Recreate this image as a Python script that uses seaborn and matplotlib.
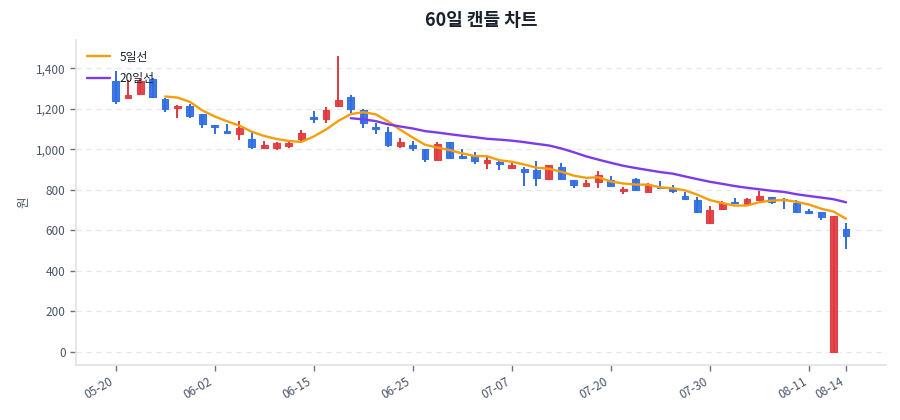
import numpy as np
import pandas as pd
import matplotlib
matplotlib.use("Agg")
import matplotlib.pyplot as plt
import seaborn as sns

# daily candles (open, high, low, close)
opens = [1337, 1255, 1272, 1345, 1250, 1202, 1215, 1172, 1120, 1088,
         1075, 1048, 1004, 1005, 1017, 1050, 1157, 1150, 1212, 1258,
         1195, 1110, 1085, 1017, 1022, 1002, 948, 1035, 965, 965,
         934, 938, 908, 900, 895, 851, 913, 847, 819, 836,
         847, 792, 854, 790, 815, 810, 768, 748, 634, 703,
         740, 728, 750, 764, 755, 736, 694, 690, 0, 606]
highs = [1385, 1340, 1345, 1350, 1252, 1218, 1222, 1175, 1120, 1123,
         1138, 1085, 1040, 1035, 1035, 1095, 1190, 1210, 1462, 1268,
         1198, 1128, 1112, 1057, 1040, 1003, 1035, 1038, 1003, 985,
         963, 940, 933, 914, 942, 924, 933, 848, 850, 892,
         870, 815, 858, 832, 843, 821, 788, 765, 718, 744,
         760, 757, 793, 766, 757, 749, 706, 692, 668, 637]
lows = [1225, 1250, 1270, 1255, 1185, 1152, 1152, 1105, 1075, 1078,
        1045, 1000, 1002, 995, 1004, 1040, 1128, 1128, 1210, 1180,
        1103, 1074, 1013, 1008, 990, 938, 946, 956, 952, 925,
        900, 897, 900, 818, 820, 849, 852, 807, 818, 810,
        817, 780, 795, 788, 806, 785, 750, 683, 633, 702,
        730, 726, 748, 727, 703, 688, 681, 650, 0, 505]
closes = [1240, 1270, 1335, 1258, 1200, 1212, 1165, 1125, 1108, 1080,
          1105, 1013, 1022, 1032, 1032, 1080, 1148, 1195, 1245, 1198,
          1128, 1098, 1020, 1035, 1007, 950, 1028, 958, 955, 940,
          947, 928, 920, 888, 860, 921, 855, 824, 834, 872,
          818, 805, 798, 830, 808, 795, 752, 690, 698, 735,
          732, 754, 771, 740, 747, 690, 686, 667, 668, 572]

tick_labels = ["05-20", "06-02", "06-15", "06-25", "07-07",
               "07-20", "07-30", "08-11", "08-14"]

df = pd.DataFrame({"open": opens, "high": highs, "low": lows, "close": closes})
df["idx"] = np.arange(len(df))
df["ma5"] = df["close"].rolling(5).mean()
df["ma20"] = df["close"].rolling(20).mean()

sns.set_theme(style="white")
plt.rcParams["font.family"] = ["Noto Sans CJK KR", "DejaVu Sans"]
plt.rcParams["axes.unicode_minus"] = False

UP = "#e0393e"
DOWN = "#2f6de1"

fig = plt.figure(figsize=(9, 4.2), dpi=100)
ax = fig.add_axes([0.0844, 0.131, 0.8996, 0.774])

up = df["close"] >= df["open"]
colors = np.where(up, UP, DOWN)
ax.vlines(df["idx"], df["low"], df["high"], colors=colors, linewidth=1.4, zorder=3)
body_bottom = np.minimum(df["open"], df["close"])
body_h = np.abs(df["close"] - df["open"])
body_h = np.maximum(body_h, 2)
ax.bar(df["idx"], body_h, bottom=body_bottom, width=0.55, color=colors,
       edgecolor=colors, linewidth=0.8, alpha=0.92, zorder=3)

sns.lineplot(data=df, x="idx", y="ma5", ax=ax, color="#f59e0b", linewidth=1.7,
             label="5일선", zorder=4)
sns.lineplot(data=df, x="idx", y="ma20", ax=ax, color="#7c3aed", linewidth=1.7,
             label="20일선", zorder=4)

n = len(df)
ticks = list(range(0, n, 8)) + [n - 1]
ax.set_xticks(ticks)
ax.set_xticklabels(tick_labels, rotation=30, ha="right")
ax.set_xlim(-3.2, n - 1 + 3.2)
ax.set_ylim(-66, 1540)
ax.set_yticks(range(0, 1401, 200))
ax.yaxis.set_major_formatter(matplotlib.ticker.FuncFormatter(lambda v, p: f"{int(v):,}"))

ax.grid(axis="y", linestyle=(0, (4, 4)), color="#e3e6ea", linewidth=0.9)
ax.set_axisbelow(True)
for side in ["top", "right"]:
    ax.spines[side].set_visible(False)
for side in ["left", "bottom"]:
    ax.spines[side].set_color("#dfe2e6")
    ax.spines[side].set_linewidth(1.2)
ax.tick_params(axis="both", which="major", length=4, width=1, color="#6b7280",
               labelsize=8.5, labelcolor="#4a5568", left=True, bottom=True)

ax.set_xlabel("")
ax.set_ylabel("원", fontsize=9, color="#4a5568")
ax.set_title("60일 캔들 차트", fontsize=13, fontweight="bold", color="#1a202c", pad=10)

leg = ax.legend(loc="upper left", frameon=False, fontsize=8.5, labelspacing=0.7)
for t in leg.get_texts():
    t.set_color("#1a202c")

fig.savefig("out.png", dpi=100)
